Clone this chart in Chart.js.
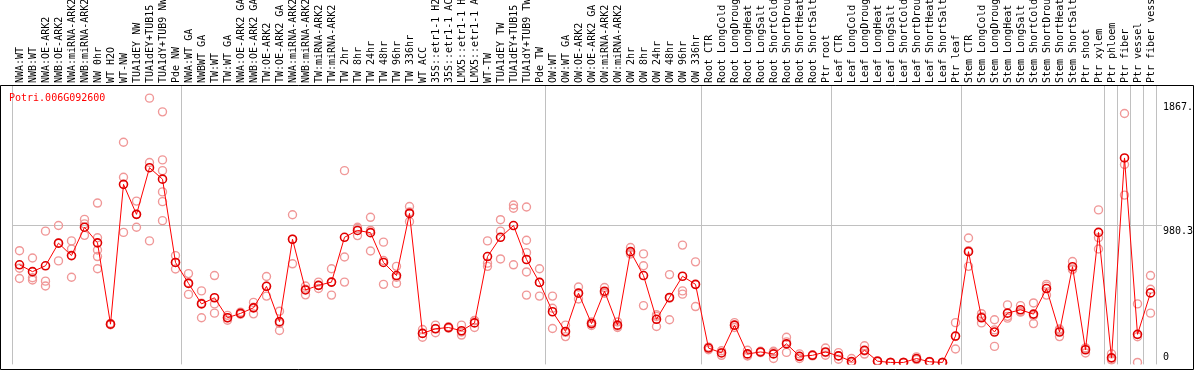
<!DOCTYPE html>
<html>
<head>
<meta charset="utf-8">
<script src="https://cdn.jsdelivr.net/npm/chart.js@4.4.0/dist/chart.umd.min.js"></script>
<style>
  html, body { margin: 0; padding: 0; background: #fff; }
  #wrap { width: 1194px; height: 370px; }
</style>
</head>
<body>
<div id="wrap"><canvas id="chart" width="1194" height="370"></canvas></div>
<script>
const geneName = 'Potri.006G092600';

// sample names, left to right
const sampleLabels = [
    'NWA:WT', 'NWB:WT', 'NWA:OE-ARK2', 'NWB:OE-ARK2', 'NWA:miRNA-ARK2', 'NWB:miRNA-ARK2',
    'NW 0hr', 'WT H2O', 'WT-NW', 'TUA1dEY NW', 'TUA1dEY+TUB15 NW', 'TUA1dY+TUB9 NW', 'Pde NW',
    'NWA:WT GA', 'NWBWT GA', 'TW:WT', 'TW:WT GA', 'NWA:OE-ARK2 GA', 'NWB:OE-ARK2 GA',
    'TW:OE-ARK2', 'TW:OE-ARK2 GA', 'NWA:miRNA-ARK2 GA', 'NWB:miRNA-ARK2 GA', 'TW:miRNA-ARK2',
    'TW:miRNA-ARK2 GA', 'TW 2hr', 'TW 8hr', 'TW 24hr', 'TW 48hr', 'TW 96hr', 'TW 336hr', 'WT ACC',
    '35S::etr1-1 H2O', '35S::etr1-1 ACC', 'LMX5::etr1-1 H2O', 'LMX5::etr1-1 ACC',
    'WT-TW', 'TUA1dEY TW', 'TUA1dEY+TUB15 TW', 'TUA1dY+TUB9 TW', 'Pde TW',
    'OW:WT', 'OW:WT GA', 'OW:OE-ARK2', 'OW:OE-ARK2 GA', 'OW:miRNA-ARK2', 'OW:miRNA-ARK2 GA',
    'OW 2hr', 'OW 8hr', 'OW 24hr', 'OW 48hr', 'OW 96hr', 'OW 336hr',
    'Root CTR', 'Root LongCold', 'Root LongDrought', 'Root LongHeat', 'Root LongSalt',
    'Root ShortCold', 'Root ShortDrought', 'Root ShortHeat', 'Root ShortSalt', 'Ptr root',
    'Leaf CTR', 'Leaf LongCold', 'Leaf LongDrought', 'Leaf LongHeat', 'Leaf LongSalt',
    'Leaf ShortCold', 'Leaf ShortDrought', 'Leaf ShortHeat', 'Leaf ShortSalt', 'Ptr leaf',
    'Stem CTR', 'Stem LongCold', 'Stem LongDrought', 'Stem LongHeat', 'Stem LongSalt',
    'Stem ShortCold', 'Stem ShortDrought', 'Stem ShortHeat', 'Stem ShortSalt', 'Ptr shoot',
    'Ptr xylem', 'Ptr phloem', 'Ptr fiber', 'Ptr vessel', 'Ptr fiber vessel'
];

// mean expression per sample
const meanValues = [
    699, 650, 692, 854, 765, 968, 856, 274, 1275, 1060, 1394, 1312, 716,
    566, 419, 463, 320, 351, 391, 545, 292, 882, 519, 552, 575, 896, 945, 929, 716, 622,
    1067, 208, 241, 250, 227, 283, 758, 896, 980, 737, 573,
    363, 222, 496, 278, 510, 267, 793, 622, 309, 465, 617, 559,
    103, 68, 267, 61, 75, 61, 133, 44, 51, 75,
    47, 7, 87, 9, 0, 0, 28, 5, 0, 189,
    793, 320, 218, 353, 377, 346, 529, 218, 685, 91, 931,
    33, 1464, 201, 498
];

// individual replicates per sample
const replicateValues = [
    [800, 674, 601], [748, 606, 590], [940, 582, 547], [980, 727, 854], [870, 812, 610],
    [1024, 992, 910], [1141, 893, 805, 758, 671], [280, 270, 272], [1576, 1326, 931],
    [1155, 968, 1060], [1892, 1431, 870], [1794, 1450, 1373, 1221, 1151, 1015], [765, 669, 716],
    [636, 487, 570], [512, 320, 425], [622, 419, 353], [337, 302, 320], [360, 345, 348],
    [430, 348, 395], [615, 475, 545], [367, 229, 280], [1057, 706, 882], [547, 484, 525],
    [575, 529, 552], [671, 482, 575], [1373, 755, 575], [968, 908, 960], [1039, 945, 798],
    [861, 559, 730], [688, 566, 610], [1116, 1008, 1077], [236, 180, 208], [267, 213, 243],
    [255, 245, 250], [267, 196, 218], [299, 250, 300], [870, 711, 688], [1022, 940, 741],
    [1127, 1104, 699], [1113, 875, 786, 648, 482], [671, 475, 573],
    [475, 388, 243], [267, 185, 215], [540, 454, 496], [290, 265, 280], [536, 500, 495],
    [290, 250, 260], [823, 780, 776], [777, 692, 407], [341, 257, 330], [629, 306, 460],
    [840, 512, 489], [720, 400, 557],
    [91, 110, 108], [84, 51, 70], [285, 250, 266], [87, 50, 46], [80, 70, 75],
    [80, 28, 75], [180, 72, 147], [61, 28, 43], [55, 47, 51], [103, 70, 52],
    [70, 23, 48], [28, 0, 0], [119, 60, 82], [12, 8, 7], [0, 0, 0],
    [0, 0, 0], [40, 20, 24], [8, 3, 4], [0, 0, 0], [285, 96, 186],
    [891, 688, 800], [349, 283, 328], [306, 115, 233], [412, 330, 317], [407, 360, 364],
    [426, 278, 334], [559, 482, 546], [239, 185, 230], [723, 664, 668], [103, 68, 102],
    [1092, 893, 812],
    [61, 20, 18], [1782, 1417, 1198], [419, 0, 184], [622, 524, 353]
];

// index of the first sample in each block (last entry = end)
const groupStarts = [0, 13, 41, 53, 63, 73, 84, 85, 86, 87, 88];

const yTickValues = [0, 980.3, 1867];
const yTickLabels = ['0', '980.3', '1867.'];

const FONT = 'DejaVu Sans Mono';

// one dataset per replicate slot, aligned with the labels
const maxReps = Math.max(...replicateValues.map(r => r.length));
const replicateSets = [];
for (let k = 0; k < maxReps; k++) {
    replicateSets.push({
        label: 'rep' + (k + 1),
        data: replicateValues.map(r => (k < r.length ? r[k] : null)),
        showLine: false,
        pointRadius: 4,
        pointBorderWidth: 1.4,
        pointBorderColor: '#f09898',
        pointBackgroundColor: 'rgba(0,0,0,0)',
        order: 1
    });
}

const decorPlugin = {
    id: 'decor',
    beforeDatasetsDraw(chart) {
        const { ctx, chartArea, scales: { x } } = chart;
        ctx.save();
        ctx.strokeStyle = '#c0c0c0';
        ctx.lineWidth = 1;
        groupStarts.forEach(g => {
            const px = Math.round(x.getPixelForValue(g) - 8) + 0.5;
            ctx.beginPath();
            ctx.moveTo(px, chartArea.top);
            ctx.lineTo(px, chartArea.bottom);
            ctx.stroke();
        });
        // gene name
        ctx.fillStyle = '#ff0000';
        ctx.font = '10px ' + FONT;
        ctx.textBaseline = 'top';
        ctx.textAlign = 'left';
        ctx.fillText(geneName, 9, chartArea.top + 7);
        ctx.restore();
    },
    afterDraw(chart) {
        const { ctx, chartArea, scales: { y } } = chart;
        const W = chart.width, H = chart.height;
        ctx.save();
        ctx.strokeStyle = '#000';
        ctx.lineWidth = 1;
        ctx.beginPath();
        ctx.moveTo(0.5, chartArea.top - 0.5);
        ctx.lineTo(W - 0.5, chartArea.top - 0.5);
        ctx.moveTo(0.5, chartArea.top - 0.5);
        ctx.lineTo(0.5, H - 0.5);
        ctx.lineTo(W - 0.5, H - 0.5);
        ctx.lineTo(W - 0.5, chartArea.top - 0.5);
        ctx.stroke();

        ctx.fillStyle = '#000';
        ctx.font = '10px ' + FONT;
        ctx.textBaseline = 'top';
        ctx.textAlign = 'left';
        yTickValues.forEach((v, i) => {
            const py = y.getPixelForValue(v);
            const top = Math.min(py + 1, chartArea.bottom - 12);
            ctx.fillText(yTickLabels[i], chartArea.right + 6, top);
        });
        ctx.restore();
    }
};

new Chart(document.getElementById('chart').getContext('2d'), {
    type: 'line',
    data: {
        labels: sampleLabels,
        datasets: [{
            label: 'mean',
            data: meanValues,
            borderColor: '#ff0000',
            borderWidth: 1,
            pointRadius: 4,
            pointBorderWidth: 1.6,
            pointBorderColor: '#e00000',
            pointBackgroundColor: 'rgba(0,0,0,0)',
            tension: 0,
            order: 0
        }, ...replicateSets]
    },
    options: {
        responsive: false,
        animation: false,
        devicePixelRatio: 1,
        layout: { padding: { left: 13, right: 0, top: 0, bottom: 0 } },
        plugins: { legend: { display: false }, tooltip: { enabled: false } },
        scales: {
            x: {
                type: 'category',
                position: 'top',
                offset: true,
                grid: { display: false, drawTicks: false },
                border: { display: false },
                ticks: {
                    autoSkip: false,
                    maxRotation: 90,
                    minRotation: 90,
                    padding: 3,
                    labelOffset: 13,
                    color: '#000',
                    font: { family: FONT, size: 10 }
                },
                afterFit(scale) { scale.height = 86; }
            },
            y: {
                position: 'right',
                min: -14,
                max: 1979,
                border: { display: false },
                afterBuildTicks(scale) {
                    scale.ticks = yTickValues.map(v => ({ value: v }));
                },
                grid: {
                    color: ctx => (ctx.tick && ctx.tick.value === 980.3) ? '#c0c0c0' : 'rgba(0,0,0,0)',
                    drawTicks: true,
                    tickLength: 5
                },
                ticks: { display: false },
                afterFit(scale) { scale.width = 37; }
            }
        }
    },
    plugins: [decorPlugin]
});
</script>
</body>
</html>
